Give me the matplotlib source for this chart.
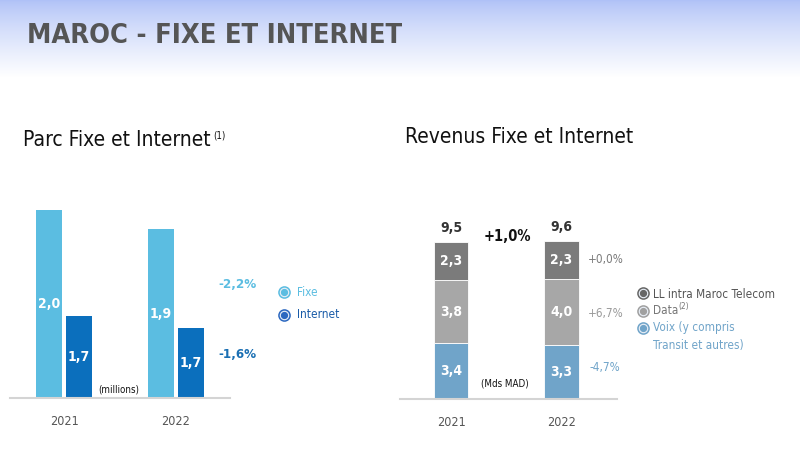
import matplotlib
matplotlib.use("Agg")
import matplotlib.pyplot as plt
import numpy as np

# parc fixe et internet (millions)
years = ["2021", "2022"]
fixe = [1.98, 1.936]
internet = [1.74, 1.712]
parc_growth = ["-2,2%", "-1,6%"]

# revenus fixe et internet (Mds MAD)
voix = [3.4, 3.3]
data = [3.8, 4.0]
ll_intra = [2.3, 2.3]
totals = ["9,5", "9,6"]
rev_growth = ["+0,0%", "+6,7%", "-4,7%"]
total_growth = "+1,0%"

plt.rcParams["font.family"] = ["DejaVu Sans"]
plt.rcParams["font.stretch"] = "condensed"

c_fixe = "#5bbde1"
c_internet = "#0b6fbd"
c_voix = "#70a4c9"
c_data = "#a7a7a7"
c_ll = "#7b7b7b"

W, H = 800, 450
fig = plt.figure(figsize=(8, 4.5), dpi=100)


def fx(x):
    return x / W


def fy(y):
    return 1 - y / H


def fmt(v):
    return f"{v:.1f}".replace(".", ",")


# header gradient
bg = fig.add_axes([0, 0, 1, 1], zorder=-5)
img = np.ones((450, 1, 3))
t = np.linspace(0, 1, 78)[:, None] ** 0.8
top = np.array([0.69, 0.76, 0.97])
img[:78, 0, :] = top + (1 - top) * t
bg.imshow(img, aspect="auto", extent=[0, 1, 0, 1])
bg.axis("off")

fig.text(fx(27), fy(36), "MAROC - FIXE ET INTERNET", fontsize=19.5, fontweight="bold",
         color="#555555", va="center", ha="left")
fig.text(fx(23), fy(140), "Parc Fixe et Internet", fontsize=15, color="#111111",
         va="center", ha="left")
fig.text(fx(213), fy(136), "(1)", fontsize=7, color="#111111", va="center", ha="left")
fig.text(fx(405), fy(137), "Revenus Fixe et Internet", fontsize=15, color="#111111",
         va="center", ha="left")

# ---- left chart ----
k1 = 111.5
axl_bottom = 398
axl_top = 200
axl = fig.add_axes([fx(10), fy(axl_bottom), 220 / W, (axl_bottom - axl_top) / H])
pos = np.arange(len(years))
bw = 26 / k1
off = 15 / k1
axl.bar(pos - off, fixe, bw, color=c_fixe)
axl.bar(pos + off, internet, bw, color=c_internet)
axl.set_xlim((10 - 64) / k1, (230 - 64) / k1)
y0 = 1.553
axl.set_ylim(y0, y0 + (axl_bottom - axl_top) / 440)
for i in range(len(years)):
    axl.text(pos[i] - off, (fixe[i] + y0) / 2, fmt(fixe[i]), ha="center", va="center",
             color="white", fontsize=10, fontweight="bold")
    axl.text(pos[i] + off, (internet[i] + y0) / 2, fmt(internet[i]), ha="center",
             va="center", color="white", fontsize=10, fontweight="bold")
axl.set_xticks(pos)
axl.set_xticklabels(years, fontsize=9, color="#555555")
axl.tick_params(axis="x", length=0, pad=12)
axl.set_yticks([])
for s in ["top", "right", "left"]:
    axl.spines[s].set_visible(False)
axl.spines["bottom"].set_color("#d4d4d4")
axl.spines["bottom"].set_linewidth(1.5)
axl.patch.set_alpha(0)

fig.text(fx(119), fy(389), "(millions)", fontsize=7, color="#111111", ha="center", va="center")
fig.text(fx(218), fy(285), parc_growth[0], fontsize=9.5, fontweight="bold", color=c_fixe,
         ha="left", va="center")
fig.text(fx(218), fy(354), parc_growth[1], fontsize=9.5, fontweight="bold", color="#1a6fb3",
         ha="left", va="center")


def bullet(x, y, col):
    fig.add_artist(plt.Line2D([fx(x)], [fy(y)], marker="o", markersize=8,
                              markerfacecolor="#e8eef6", markeredgecolor=col,
                              markeredgewidth=1.1, transform=fig.transFigure))
    fig.add_artist(plt.Line2D([fx(x)], [fy(y)], marker="o", markersize=4.2,
                              markerfacecolor=col, markeredgecolor=col,
                              transform=fig.transFigure))


bullet(284, 292, c_fixe)
bullet(284, 315, "#2c68c0")
fig.text(fx(297), fy(292), "Fixe", fontsize=8.5, color=c_fixe, ha="left", va="center")
fig.text(fx(297), fy(315), "Internet", fontsize=8.5, color="#1a5ca8", ha="left", va="center")

# ---- right chart ----
k2 = 110.5
axr_bottom = 399
axr_top = 200
axr = fig.add_axes([fx(400), fy(axr_bottom), 217 / W, (axr_bottom - axr_top) / H])
bw2 = 34.5 / k2
b1 = np.array(voix)
b2 = b1 + np.array(data)
b3 = b2 + np.array(ll_intra)
axr.bar(pos, voix, bw2, color=c_voix, edgecolor="white", linewidth=0.6)
axr.bar(pos, data, bw2, bottom=b1, color=c_data, edgecolor="white", linewidth=0.6)
axr.bar(pos, ll_intra, bw2, bottom=b2, color=c_ll, edgecolor="white", linewidth=0.6)
axr.set_xlim((400 - 451) / k2, (617 - 451) / k2)
axr.set_ylim(0, (axr_bottom - axr_top) / 16.5)
for i in range(len(years)):
    axr.text(pos[i], voix[i] / 2, fmt(voix[i]), ha="center", va="center", color="white",
             fontsize=10, fontweight="bold")
    axr.text(pos[i], b1[i] + data[i] / 2, fmt(data[i]), ha="center", va="center",
             color="white", fontsize=10, fontweight="bold")
    axr.text(pos[i], b2[i] + ll_intra[i] / 2, fmt(ll_intra[i]), ha="center", va="center",
             color="white", fontsize=10, fontweight="bold")
    axr.annotate(totals[i], (pos[i], b3[i]), xytext=(0, 5), textcoords="offset points",
                 ha="center", va="bottom", fontsize=10, fontweight="bold", color="#333333")
axr.set_xticks(pos)
axr.set_xticklabels(years, fontsize=9, color="#555555")
axr.tick_params(axis="x", length=0, pad=12)
axr.set_yticks([])
for s in ["top", "right", "left"]:
    axr.spines[s].set_visible(False)
axr.spines["bottom"].set_color("#d4d4d4")
axr.spines["bottom"].set_linewidth(1.5)
axr.patch.set_alpha(0)

fig.text(fx(507), fy(236), total_growth, fontsize=10.5, fontweight="bold", color="#111111",
         ha="center", va="center")
fig.text(fx(505), fy(384), "(Mds MAD)", fontsize=7, color="#111111", ha="center", va="center")
fig.text(fx(588), fy(259), rev_growth[0], fontsize=8.5, color="#7b7b7b", ha="left", va="center")
fig.text(fx(588), fy(314), rev_growth[1], fontsize=8.5, color="#9a9a9a", ha="left", va="center")
fig.text(fx(590), fy(367), rev_growth[2], fontsize=8.5, color=c_voix, ha="left", va="center")

bullet(643, 293, "#666666")
bullet(643, 311, "#a0a0a0")
bullet(643, 328, c_voix)
fig.text(fx(653), fy(294), "LL intra Maroc Telecom", fontsize=8.5, color="#555555",
         ha="left", va="center")
fig.text(fx(653), fy(311), "Data", fontsize=8.5, color="#777777", ha="left", va="center")
fig.text(fx(678), fy(306), "(2)", fontsize=6, color="#777777", ha="left", va="center")
fig.text(fx(653), fy(328), "Voix (y compris", fontsize=8.5, color=c_voix, ha="left", va="center")
fig.text(fx(653), fy(345), "Transit et autres)", fontsize=8.5, color=c_voix, ha="left",
         va="center")

fig.savefig("out.png", dpi=100)
